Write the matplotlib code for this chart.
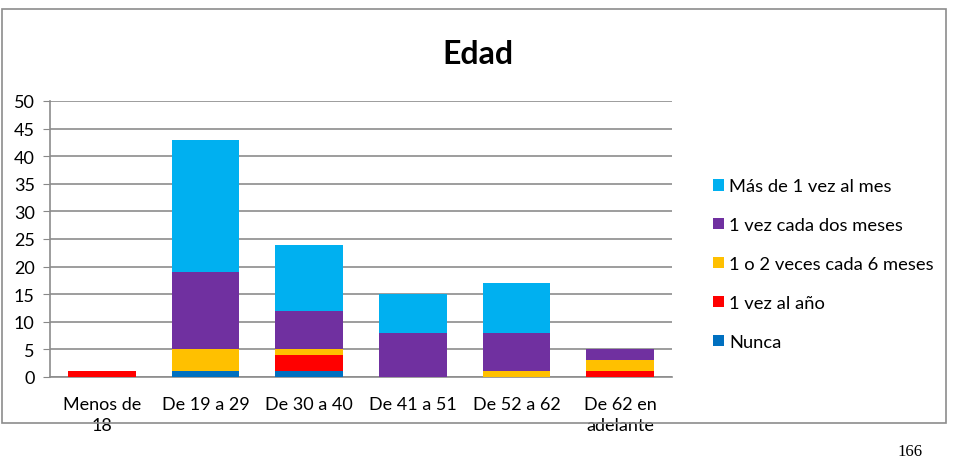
import matplotlib
matplotlib.use("Agg")
import matplotlib.pyplot as plt
from matplotlib.patches import Rectangle
import numpy as np

# datos
categorias = ["Menos de\n18", "De 19 a 29", "De 30 a 40", "De 41 a 51", "De 52 a 62", "De 62 en\nadelante"]
nunca = [0, 1, 1, 0, 0, 0]
una_vez_anio = [1, 0, 3, 0, 0, 1]
una_dos_6meses = [0, 4, 1, 0, 1, 2]
cada_dos_meses = [0, 14, 7, 8, 7, 2]
mas_de_1_mes = [0, 24, 12, 7, 9, 0]

series = [
    ("Nunca", nunca, "#0070C0"),
    ("1 vez al año", una_vez_anio, "#FF0000"),
    ("1 o 2 veces cada 6 meses", una_dos_6meses, "#FFC000"),
    ("1 vez cada dos meses", cada_dos_meses, "#7030A0"),
    ("Más de 1 vez al mes", mas_de_1_mes, "#00B0F0"),
]

plt.rcParams["font.family"] = ["Lato", "DejaVu Sans"]

fig = plt.figure(figsize=(9.62, 4.64), dpi=100)
ax = fig.add_axes([50/962, 1-378/464, 622/962, 276/464])

x = np.arange(len(categorias))
base = np.zeros(len(categorias))
handles = []
for nombre, vals, color in series:
    b = ax.bar(x, vals, bottom=base, width=0.65, color=color, label=nombre, zorder=3)
    handles.append(b)
    base += np.array(vals)

ax.set_ylim(0, 50)
ax.set_xlim(-0.5, len(categorias) - 0.5)
ax.set_yticks(range(0, 51, 5))
ax.set_xticks(x)
ax.set_xticklabels(categorias, fontsize=13, linespacing=1.35)
ax.tick_params(axis="y", labelsize=13, length=5, color="#888888", pad=6)
ax.tick_params(axis="x", length=0, pad=14)
ax.yaxis.grid(True, color="#8c8c8c", linewidth=1.2, zorder=0)
for s in ["top", "right"]:
    ax.spines[s].set_visible(False)
ax.spines["left"].set_color("#8c8c8c")
ax.spines["bottom"].set_color("#8c8c8c")
ax.spines["left"].set_linewidth(1.2)
ax.spines["bottom"].set_linewidth(1.2)

fig.text(478/962, 1-55/464, "Edad", fontsize=23, fontweight="bold", ha="center", va="center")

leg = fig.legend(handles[::-1], [s[0] for s in series][::-1], loc="center left",
                 bbox_to_anchor=(696/962, 1-265/464), frameon=False, fontsize=13.2,
                 handlelength=0.6, handleheight=0.6, handletextpad=0.3, labelspacing=1.25)

# marco exterior
fig.add_artist(Rectangle((2/962, 1-424/464), 944/962, 414/464, transform=fig.transFigure,
                         fill=False, edgecolor="#8c8c8c", linewidth=1.2))

fig.text(910/962, 1-452/464, "166", fontsize=12, family="Liberation Serif", ha="center", va="center")

fig.savefig("out.png", dpi=100)
